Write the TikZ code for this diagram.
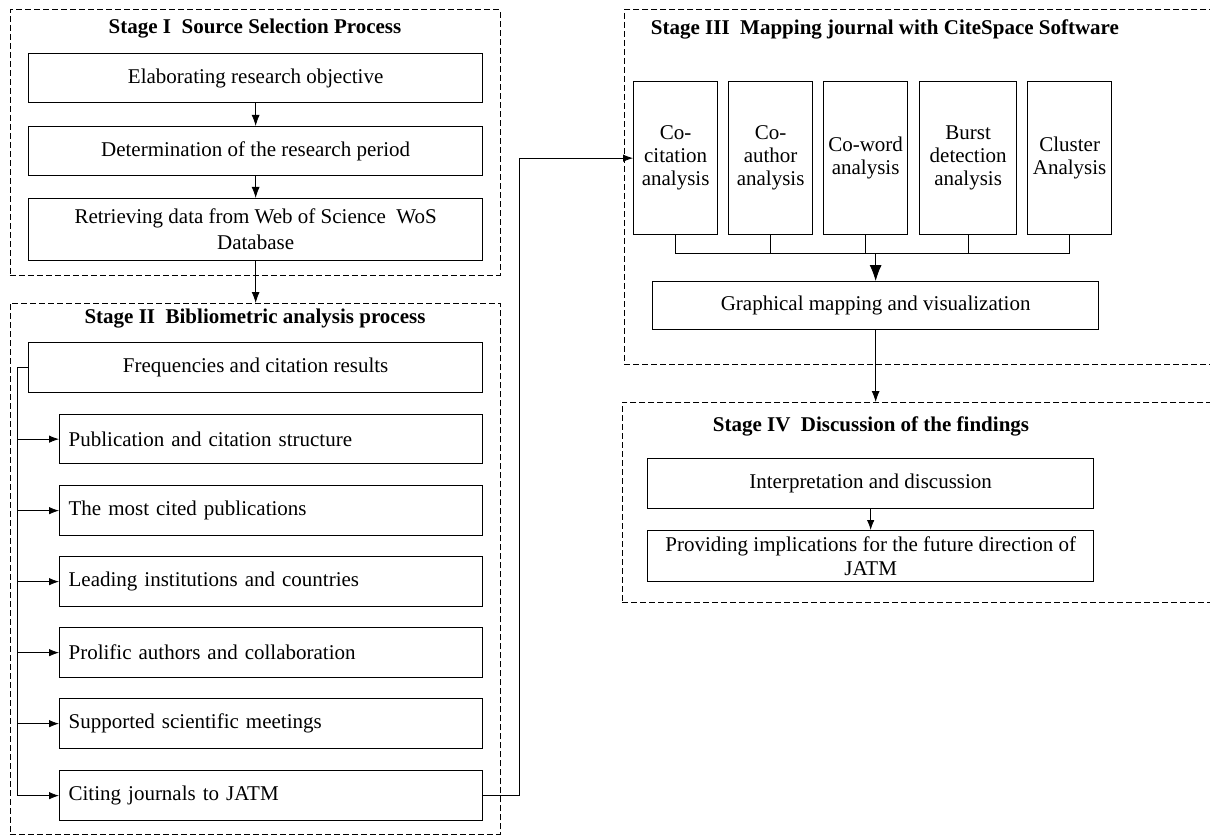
\documentclass[tikz,border=0pt]{standalone}
\usepackage{fontspec}
\setmainfont{Liberation Serif}
\usetikzlibrary{arrows.meta}
\tikzset{
  txt/.style={font=\fontsize{21}{23}\selectfont},
  box/.style={txt, draw, line width=1.3pt, inner sep=0pt, anchor=north west, align=center},
  lbox/.style={box, align=left, text width=#1, inner xsep=9pt},
  stagebox/.style={draw, dashed, dash pattern=on 6pt off 3pt, line width=0.7pt, anchor=north west, inner sep=0pt},
  title/.style={font=\fontsize{21}{23}\selectfont\bfseries},
  conn/.style={line width=0.8pt},
  arr/.style={conn, -{Latex[length=11pt,width=8pt]}},
  sarr/.style={conn, -{Latex[length=10pt,width=7.5pt]}},
  barr/.style={conn, -{Latex[length=16pt,width=12pt]}}
}
\begin{document}
\begin{tikzpicture}[x=1pt,y=-1pt]
\clip (0,0) rectangle (1210,837);
% stage frames
\node[stagebox, minimum width=490pt, minimum height=265pt] (s1) at (9.5,9.5) {};
\node[stagebox, minimum width=490pt, minimum height=531pt] (s2) at (9.5,303) {};
\node[stagebox, minimum width=600pt, minimum height=354pt] (s3) at (624,9.5) {};
\node[stagebox, minimum width=600pt, minimum height=200pt] (s4) at (622,402) {};
% titles
\node[title] (t1) at (255,29) {Stage I\ \ Source Selection Process};
\node[title] (t2) at (255,319) {Stage II\ \ Bibliometric analysis process};
\node[title] (t3) at (885,29) {Stage III\ \ Mapping journal with CiteSpace Software};
\node[title] (t4) at (871,426) {Stage IV\ \ Discussion of the findings};
% stage I
\node[box, minimum width=454pt, minimum height=49pt] (elab) at (28,53) {Elaborating research objective};
\node[box, minimum width=454pt, minimum height=49pt] (det) at (28,126) {Determination of the research period};
\node[box, minimum width=454pt, minimum height=62pt] (ret) at (28,198) {Retrieving data from Web of Science\ \ WoS\\[3pt]Database};
\draw[arr] (elab.south) -- (det.north);
\draw[arr] (det.south) -- (ret.north);
\draw[arr] (ret.south) -- (ret.south |- s2.north);
% stage II
\node[box, minimum width=454pt, minimum height=50pt] (freq) at (28,342) {Frequencies and citation results};
\node[lbox=405pt, minimum width=423pt, minimum height=49pt] (pub) at (59,414) {Publication and citation structure};
\node[lbox=405pt, minimum width=423pt, minimum height=50pt] (most) at (59,485) {The most cited publications};
\node[lbox=405pt, minimum width=423pt, minimum height=50pt] (lead) at (59,556) {Leading institutions and countries};
\node[lbox=405pt, minimum width=423pt, minimum height=50pt] (prol) at (59,627) {Prolific authors and collaboration};
\node[lbox=405pt, minimum width=423pt, minimum height=50pt] (supp) at (59,698) {Supported scientific meetings};
\node[lbox=405pt, minimum width=423pt, minimum height=50pt] (cite) at (59,770) {Citing journals to JATM};
\draw[conn] (freq.west) -- ++(-11,0) coordinate (b0) -- (b0 |- cite.west);
\foreach \n in {pub,most,lead,prol,supp,cite}{
  \draw[sarr] (b0 |- \n.west) -- (\n.west);
}
% stage III
\node[box, minimum width=84pt, minimum height=153pt] (cocit) at (633,81) {Co-\\citation\\analysis};
\node[box, minimum width=84pt, minimum height=153pt] (coaut) at (728,81) {Co-\\author\\analysis};
\node[box, minimum width=84pt, minimum height=153pt] (coword) at (823,81) {Co-word\\analysis};
\node[box, minimum width=97pt, minimum height=153pt] (burst) at (919,81) {Burst\\detection\\analysis};
\node[box, minimum width=84pt, minimum height=153pt] (clus) at (1027,81) {Cluster\\Analysis};
\node[box, minimum width=446pt, minimum height=48pt] (graph) at (652,281) {Graphical mapping and visualization};
\coordinate (bus) at (0,253);
\draw[conn] (cocit.south) -- (cocit.south |- bus) -- (clus.south |- bus) -- (clus.south);
\foreach \n in {coaut,coword,burst}{
  \draw[conn] (\n.south) -- (\n.south |- bus);
}
\draw[barr] (graph.north |- bus) -- (graph.north);
\draw[sarr] (cite.east) -- ++(36,0) |- (cocit.west);
% stage IV
\draw[arr] (graph.south) -- (graph.south |- s4.north);
\node[box, minimum width=446pt, minimum height=50pt] (interp) at (647,458) {Interpretation and discussion};
\node[box, minimum width=446pt, minimum height=51pt, font=\fontsize{21}{24}\selectfont] (prov) at (647,530) {Providing implications for the future direction of\\JATM};
\draw[sarr] (interp.south) -- (prov.north);
\end{tikzpicture}
\end{document}
